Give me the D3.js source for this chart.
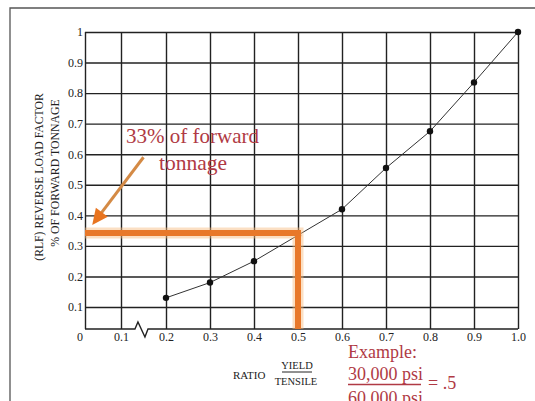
<!DOCTYPE html>
<html>
<head>
<meta charset="utf-8">
<script src="https://cdn.jsdelivr.net/npm/d3@7"></script>
<style>
  html, body { margin: 0; padding: 0; background: #fff; }
  svg { display: block; }
</style>
</head>
<body>
<div id="chart"></div>
<script>
// yield / tensile ratio and reverse load factor
const ratios = [0.2, 0.3, 0.4, 0.5, 0.6, 0.7, 0.8, 0.9, 1.0];
const rlf = [0.13, 0.18, 0.25, 0.335, 0.42, 0.555, 0.675, 0.835, 1.0];

const xTicks = [0, 0.1, 0.2, 0.3, 0.4, 0.5, 0.6, 0.7, 0.8, 0.9, 1.0];
const xTickLabels = ["", "0.1", "0.2", "0.3", "0.4", "0.5", "0.6", "0.7", "0.8", "0.9", "1.0"];
const yTicks = [0.1, 0.2, 0.3, 0.4, 0.5, 0.6, 0.7, 0.8, 0.9, 1];
const yTickLabels = ["0.1", "0.2", "0.3", "0.4", "0.5", "0.6", "0.7", "0.8", "0.9", "1"];

// worked example: ratio .5 -> about a third of forward tonnage
const exampleRatio = 0.5;
const exampleRLF = 0.342;
const arrowFrom = [0.15, 0.59];
const arrowTo = [0.02, 0.368];

const W = 535, H = 401;
const serif = "'Liberation Serif', 'DejaVu Serif', serif";
const red = "#b03a44";
const ink = "#222";

// the axes are broken near the origin, so both scales are piecewise
const x = d3.scaleLinear().domain([0, 0.1, 0.2, 1]).range([85, 121, 166, 518]);
const y = d3.scaleLinear().domain([0, 0.1, 1]).range([329, 307, 32]);

const svg = d3.select("#chart").append("svg")
    .attr("width", W)
    .attr("height", H)
    .attr("viewBox", [0, 0, W, H]);

svg.append("rect").attr("width", W).attr("height", H).attr("fill", "#fff");

// page frame
svg.append("path")
    .attr("d", "M10,401V8H535")
    .attr("fill", "none")
    .attr("stroke", "#555")
    .attr("stroke-width", 1.3);

// grid via axes
const gx = svg.append("g")
    .attr("transform", `translate(0,${y(0)})`)
    .call(d3.axisBottom(x)
        .tickValues(xTicks)
        .tickSize(-(y(0) - y(1)))
        .tickPadding(3)
        .tickFormat((d, i) => xTickLabels[i]));

const gy = svg.append("g")
    .attr("transform", `translate(${x(0)},0)`)
    .call(d3.axisLeft(y)
        .tickValues(yTicks)
        .tickSize(-(x(1) - x(0)))
        .tickPadding(2)
        .tickFormat((d, i) => yTickLabels[i]));

[gx, gy].forEach(g => {
  g.select(".domain").remove();
  g.attr("font-family", serif).attr("font-size", 12);
  g.selectAll("line").attr("stroke", ink).attr("stroke-width", 1.4);
  g.selectAll("text").attr("fill", "#222");
});

// origin label sits off the corner
svg.append("text")
    .attr("x", x(0) - 5)
    .attr("y", y(0) + 12)
    .attr("text-anchor", "middle")
    .attr("font-family", serif)
    .attr("font-size", 12)
    .attr("fill", "#222")
    .text("0");

// bottom axis with the break symbol
const bx0 = x(0.131), bx1 = x(0.16), by = y(0);
svg.append("path")
    .attr("d", `M${x(0)},${by}H${bx0}L${bx0 + 3},${by - 7}L${bx0 + 10},${by + 8}L${bx1},${by}H${x(1)}`)
    .attr("fill", "none")
    .attr("stroke", ink)
    .attr("stroke-width", 1.4);

// curve
svg.append("path")
    .datum(ratios.map((r, i) => [r, rlf[i]]))
    .attr("d", d3.line().x(d => x(d[0])).y(d => y(d[1])))
    .attr("fill", "none")
    .attr("stroke", "#333")
    .attr("stroke-width", 1);

svg.append("g")
    .selectAll("circle")
    .data(ratios.map((r, i) => [r, rlf[i]]))
    .join("circle")
    .attr("cx", d => x(d[0]))
    .attr("cy", d => y(d[1]))
    .attr("r", 3.2)
    .attr("fill", "#111");

// orange example bracket
const bracket = [[0, exampleRLF], [exampleRatio, exampleRLF], [exampleRatio, 0]];
const bline = d3.line().x(d => x(d[0])).y(d => y(d[1]));
svg.append("path")
    .attr("d", bline(bracket))
    .attr("fill", "none")
    .attr("stroke", "#f7b979")
    .attr("stroke-opacity", 0.45)
    .attr("stroke-width", 11)
    .attr("stroke-linejoin", "miter");
svg.append("path")
    .attr("d", bline(bracket))
    .attr("fill", "none")
    .attr("stroke", "#e8782a")
    .attr("stroke-width", 6)
    .attr("stroke-linejoin", "miter");

// arrow
const ax0 = x(arrowFrom[0]), ay0 = y(arrowFrom[1]);
const ax1 = x(arrowTo[0]), ay1 = y(arrowTo[1]);
const len = Math.hypot(ax1 - ax0, ay1 - ay0);
const ux = (ax1 - ax0) / len, uy = (ay1 - ay0) / len;
const headL = 16, headW = 7.5;
const hbx = ax1 - ux * headL, hby = ay1 - uy * headL;
svg.append("line")
    .attr("x1", ax0).attr("y1", ay0)
    .attr("x2", hbx + ux * 2).attr("y2", hby + uy * 2)
    .attr("stroke", "#d48a45")
    .attr("stroke-width", 3);
svg.append("path")
    .attr("d", `M${ax1},${ay1}L${hbx - uy * headW},${hby + ux * headW}L${hbx + uy * headW},${hby - ux * headW}Z`)
    .attr("fill", "#e8741f");

// red annotation text
const note = svg.append("g").attr("font-family", serif).attr("fill", red);
note.append("text").attr("x", 126).attr("y", 143).attr("font-size", 21).text("33% of forward");
note.append("text").attr("x", 193).attr("y", 170).attr("font-size", 21.5)
    .attr("text-anchor", "middle").text("tonnage");
note.append("text").attr("x", 348).attr("y", 358).attr("font-size", 18).text("Example:");
note.append("text").attr("x", 348).attr("y", 380).attr("font-size", 18).text("30,000 psi");
note.append("text").attr("x", 428).attr("y", 389).attr("font-size", 18).text("= .5");
note.append("text").attr("x", 348).attr("y", 404).attr("font-size", 18).text("60,000 psi");
svg.append("line")
    .attr("x1", 348).attr("x2", 421).attr("y1", 384.5).attr("y2", 384.5)
    .attr("stroke", red).attr("stroke-width", 1.4);

// x axis title
const xt = svg.append("g").attr("font-family", serif).attr("fill", "#222");
xt.append("text").attr("x", 233).attr("y", 379).attr("font-size", 11).text("RATIO");
xt.append("text").attr("x", 297).attr("y", 369).attr("font-size", 10.5)
    .attr("text-anchor", "middle").text("YIELD");
xt.append("text").attr("x", 296).attr("y", 385).attr("font-size", 10.5)
    .attr("text-anchor", "middle").text("TENSILE");
svg.append("line")
    .attr("x1", 282).attr("x2", 312).attr("y1", 372).attr("y2", 372)
    .attr("stroke", "#222").attr("stroke-width", 1);

// y axis title, two rotated lines
const yt = svg.append("g").attr("font-family", serif).attr("fill", "#222")
    .attr("text-anchor", "middle");
yt.append("text")
    .attr("transform", "translate(43,177) rotate(-90)")
    .attr("font-size", 11.7)
    .text("(RLF) REVERSE LOAD FACTOR");
yt.append("text")
    .attr("transform", "translate(59,173) rotate(-90)")
    .attr("font-size", 11.8)
    .text("% OF FORWARD TONNAGE");
</script>
</body>
</html>
